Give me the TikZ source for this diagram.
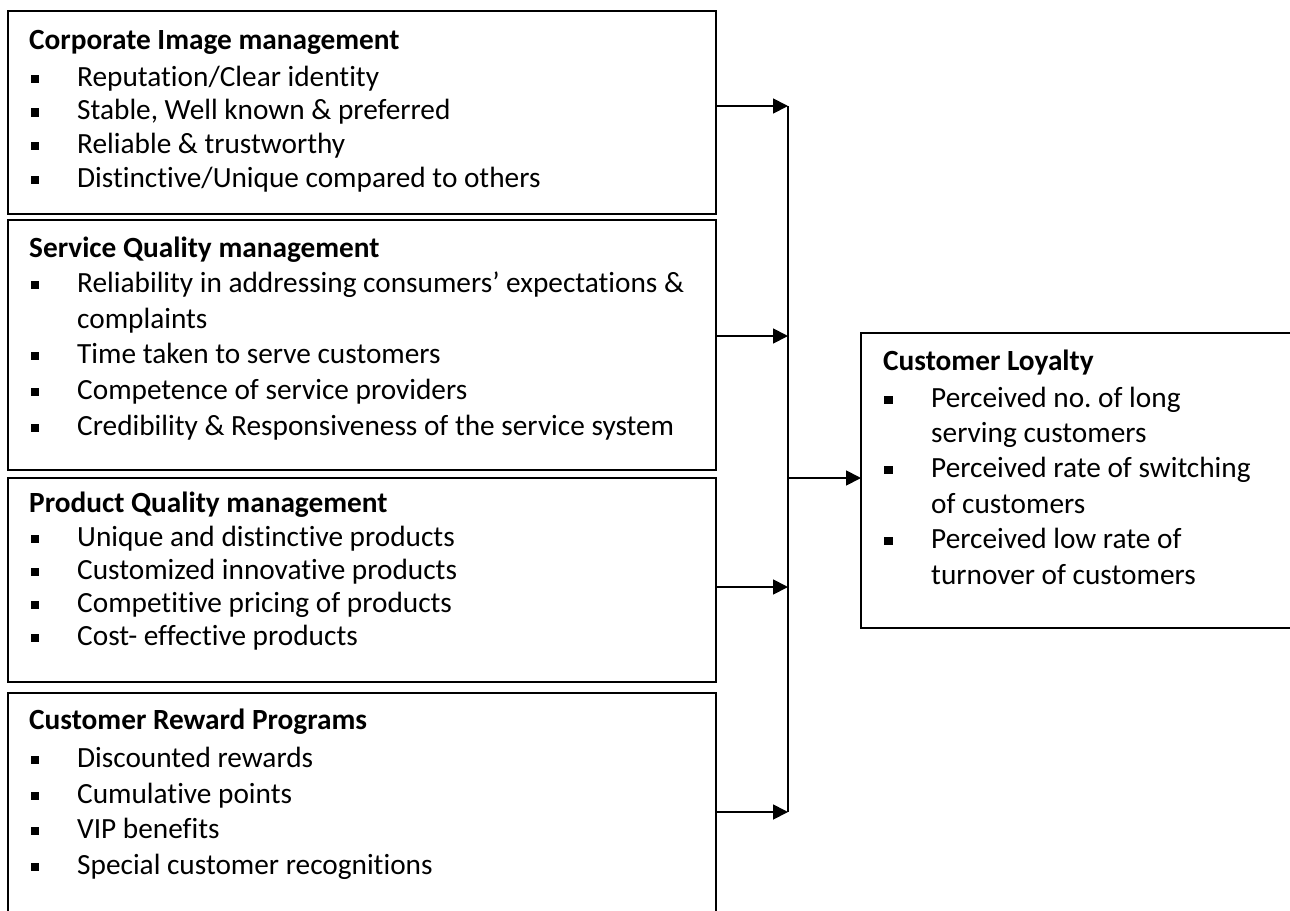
\documentclass[tikz,border=0pt]{standalone}
\usepackage{fontspec}
\setmainfont{Carlito}[Ligatures=NoCommon]
\usetikzlibrary{arrows.meta}
\frenchspacing
\tikzset{
  box/.style={draw, line width=1.8pt, rectangle, inner sep=0pt, outer sep=0pt, anchor=north west},
  hd/.style={anchor=base west, inner sep=0pt, font=\fontsize{29.3}{34}\selectfont\bfseries},
  it/.style={anchor=base west, inner sep=0pt, font=\fontsize{29.3}{34}\selectfont},
  bul/.style={fill=black, inner sep=0pt, minimum size=8.5pt},
  arr/.style={line width=1.8pt, -{Triangle[length=15pt,width=15pt]}},
  ln/.style={line width=1.8pt}
}
\begin{document}
\begin{tikzpicture}[x=1pt,y=-1pt]
\clip (0,0) rectangle (1290,910);
\useasboundingbox (0,0) rectangle (1290,910);
% boxes
\node[box, minimum width=708pt, minimum height=203pt] (b1) at (8,11) {};
\node[box, minimum width=708pt, minimum height=250pt] (b2) at (8,220) {};
\node[box, minimum width=708pt, minimum height=204pt] (b3) at (8,478) {};
\node[box, minimum width=708pt, minimum height=240pt] (b4) at (8,693) {};
\node[box, minimum width=450pt, minimum height=295pt] (loy) at (861,333) {};
% box 1
\node[hd] (h1) at (29,49) {Corporate Image management};
\node[bul] (u11) at (35,79) {}; \node[it] (t11) at (77,86) {Reputation/Clear identity};
\node[bul] (u12) at (35,112.5) {}; \node[it] (t12) at (77,119.5) {Stable, Well known \& preferred};
\node[bul] (u13) at (35,146) {}; \node[it] (t13) at (77,153) {Reliable \& trustworthy};
\node[bul] (u14) at (35,180) {}; \node[it] (t14) at (77,187) {Distinctive/Unique compared to others};
% box 2
\node[hd] (h2) at (29,257) {Service Quality management};
\node[bul] (u21) at (35,285) {}; \node[it] (t21) at (77,292) {Reliability in addressing consumers’ expectations \&};
\node[it] (t21b) at (77,328) {complaints};
\node[bul] (u22) at (35,356) {}; \node[it] (t22) at (77,363) {Time taken to serve customers};
\node[bul] (u23) at (35,392) {}; \node[it] (t23) at (77,399) {Competence of service providers};
\node[bul] (u24) at (35,428) {}; \node[it] (t24) at (77,435) {Credibility \& Responsiveness of the service system};
% box 3
\node[hd] (h3) at (29,512) {Product Quality management};
\node[bul] (u31) at (35,539) {}; \node[it] (t31) at (77,546) {Unique and distinctive products};
\node[bul] (u32) at (35,572) {}; \node[it] (t32) at (77,579) {Customized innovative products};
\node[bul] (u33) at (35,605) {}; \node[it] (t33) at (77,612) {Competitive pricing of products};
\node[bul] (u34) at (35,638) {}; \node[it] (t34) at (77,645) {Cost- effective products};
% box 4
\node[hd] (h4) at (29,729) {Customer Reward Programs};
\node[bul] (u41) at (35,760) {}; \node[it] (t41) at (77,767) {Discounted rewards};
\node[bul] (u42) at (35,796) {}; \node[it] (t42) at (77,803) {Cumulative points};
\node[bul] (u43) at (35,831) {}; \node[it] (t43) at (77,838) {VIP benefits};
\node[bul] (u44) at (35,867) {}; \node[it] (t44) at (77,874) {Special customer recognitions};
% loyalty
\node[hd] (h5) at (883,370) {Customer Loyalty};
\node[bul] (u51) at (888.5,400) {}; \node[it] (t51) at (931,407) {Perceived no. of long};
\node[it] (t51b) at (931,442) {serving customers};
\node[bul] (u52) at (888.5,470) {}; \node[it] (t52) at (931,477) {Perceived rate of switching};
\node[it] (t52b) at (931,513) {of customers};
\node[bul] (u53) at (888.5,541) {}; \node[it] (t53) at (931,548) {Perceived low rate of};
\node[it] (t53b) at (931,584) {turnover of customers};
% connectors
\coordinate (j1) at (788,106);
\coordinate (j2) at (788,336);
\coordinate (j3) at (788,587);
\coordinate (j4) at (788,812);
\coordinate (jc) at (788,478);
\draw[ln] (j1) -- (j4);
\draw[arr] (j1 -| b1.east) -- (j1);
\draw[arr] (j2 -| b2.east) -- (j2);
\draw[arr] (j3 -| b3.east) -- (j3);
\draw[arr] (j4 -| b4.east) -- (j4);
\draw[arr] (jc) -- (jc -| loy.west);
\end{tikzpicture}
\end{document}
